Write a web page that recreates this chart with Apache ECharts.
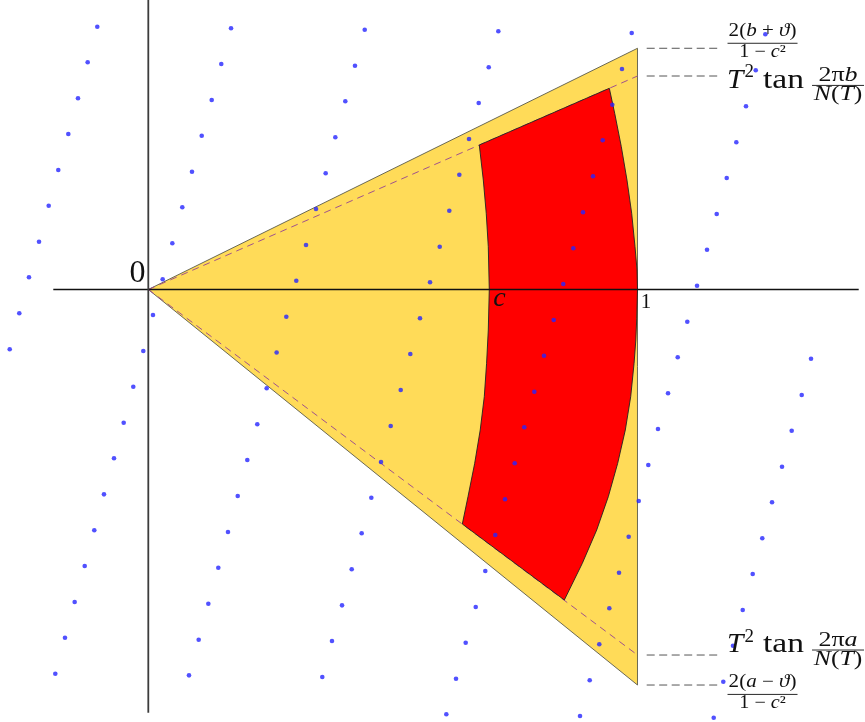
<!DOCTYPE html>
<html>
<head>
<meta charset="utf-8">
<style>
  html, body { margin: 0; padding: 0; background: #fff; }
  #chart { width: 865px; height: 722px; }
</style>
</head>
<body>
<div id="chart"></div>
<script src="https://cdn.jsdelivr.net/npm/echarts@6/dist/echarts.min.js"></script>
<script>
// plane coordinates, unit = distance from 0 to 1 on the real axis
const triangle = [[0, 0], [1, 0.4931], [1, -0.8085]]
const rayTop = [[0, 0], [1, 0.4364]]
const rayBottom = [[0, 0], [1, -0.7472]]

// red region: outer arc top -> bottom, inner arc bottom -> top
const outerArc = [
  [0.9424, 0.4113], [0.9534, 0.3602], [0.9669, 0.2919], [0.9785, 0.2238],
  [0.9881, 0.1558], [0.9949, 0.0875], [0.9990, 0.0400], [1.0, 0],
  [0.9984, -0.0600], [0.9966, -0.1032], [0.9930, -0.1509], [0.9861, -0.2191],
  [0.9751, -0.2872], [0.9595, -0.3553], [0.9403, -0.4236], [0.9166, -0.4916],
  [0.8872, -0.5597], [0.8504, -0.6347]
]
const innerArc = [
  [0.6419, -0.4794], [0.6535, -0.4236], [0.6672, -0.3553], [0.6785, -0.2872],
  [0.6868, -0.2191], [0.6915, -0.1509], [0.6950, -0.0828], [0.6970, 0],
  [0.6950, 0.0875], [0.6908, 0.1558], [0.6848, 0.2238], [0.6766, 0.2954]
]

const realAxis = [[-0.1942, 0], [1.4522, 0]]
const imagAxis = [[0, 0.5918], [0, -0.8651]]

const xTicks = [0, 0.697, 1]
const xTickLabels = ['0', 'c', '1']

const rightTicks = [0.4931, 0.4364, -0.7472, -0.8085]
const rightTickNum = ['2({i|b} + {i|ϑ})', '2π{i|b}', '2π{i|a}', '2({i|a} − {i|ϑ})']
const rightTickDen = ['1 − {i|c}²', '{i|N}({i|T})', '{i|N}({i|T})', '1 − {i|c}²']
const guideStart = 1.0188
const guideEnd = 1.1687

// lattice points, one slanted column each
const dotsA = [[-0.1043, 0.5372], [-0.1239, 0.4644], [-0.1437, 0.3909], [-0.1635, 0.3179], [-0.1840, 0.2443],
  [-0.2036, 0.1713], [-0.2234, 0.0977], [-0.2439, 0.0249], [-0.2637, -0.0487], [-0.2833, -0.1222]]
const dotsB = [[0.1691, 0.5340], [0.1492, 0.4610], [0.1296, 0.3874], [0.1092, 0.3144], [0.0893, 0.2408],
  [0.0695, 0.1680], [0.0491, 0.0944], [0.0294, 0.0209], [0.0096, -0.0521], [-0.0102, -0.1257],
  [-0.0307, -0.1987], [-0.0503, -0.2723], [-0.0701, -0.3451], [-0.0906, -0.4187], [-0.1104, -0.4922],
  [-0.1300, -0.5652], [-0.1505, -0.6388], [-0.1703, -0.7118], [-0.1901, -0.7854]]
const dotsC = [[0.4424, 0.5311], [0.4225, 0.4575], [0.4027, 0.3847], [0.3823, 0.3111], [0.3626, 0.2375],
  [0.3428, 0.1646], [0.3224, 0.0910], [0.3025, 0.0180], [0.2821, -0.0556], [0.2623, -0.1288],
  [0.2420, -0.2020], [0.2228, -0.2756], [0.2024, -0.3485], [0.1828, -0.4221], [0.1629, -0.4957],
  [0.1431, -0.5687], [0.1227, -0.6423], [0.1030, -0.7159], [0.0832, -0.7887]]
const dotsD = [[0.7155, 0.5278], [0.6959, 0.4542], [0.6754, 0.3812], [0.6556, 0.3077], [0.6358, 0.2347],
  [0.6153, 0.1611], [0.5957, 0.0875], [0.5759, 0.0147], [0.5554, -0.0589], [0.5356, -0.1319],
  [0.5160, -0.2054], [0.4955, -0.2790], [0.4757, -0.3526], [0.4559, -0.4256], [0.4362, -0.4984],
  [0.4158, -0.5720], [0.3960, -0.6456], [0.3755, -0.7185], [0.3557, -0.7921]]
const dotsE = [[0.9882, 0.5243], [0.9683, 0.4508], [0.9485, 0.3778], [0.9289, 0.3050], [0.9091, 0.2314],
  [0.8886, 0.1578], [0.8688, 0.0842], [0.8483, 0.0112], [0.8287, -0.0624], [0.8089, -0.1353],
  [0.7891, -0.2089], [0.7686, -0.2817], [0.7490, -0.3553], [0.7292, -0.4289], [0.7093, -0.5019],
  [0.6889, -0.5754], [0.6693, -0.6490], [0.6488, -0.7220], [0.6290, -0.7956], [0.6092, -0.8684]]
const dotsF = [[1.2613, 0.5217], [1.2417, 0.4481], [1.2218, 0.3745], [1.2020, 0.3009], [1.1824, 0.2279],
  [1.1619, 0.1543], [1.1421, 0.0814], [1.1217, 0.0078], [1.1018, -0.0658], [1.0822, -0.1386],
  [1.0624, -0.2122], [1.0419, -0.2852], [1.0221, -0.3588], [1.0025, -0.4324], [0.9820, -0.5053],
  [0.9622, -0.5789], [0.9424, -0.6517], [0.9219, -0.7253], [0.9023, -0.7989], [0.8825, -0.8719]]
const dotsG = [[1.3547, -0.1415], [1.3357, -0.2157], [1.3152, -0.2886], [1.2954, -0.3622], [1.2750, -0.4350],
  [1.2551, -0.5086], [1.2355, -0.5816], [1.2151, -0.6552], [1.1952, -0.7281], [1.1754, -0.8017],
  [1.1558, -0.8753]]

const FONT = "'Liberation Serif', 'DejaVu Serif', serif"
const INK = '#111'

const chart = echarts.init(document.getElementById('chart'))

function polygonSeries(points, fill, stroke, z) {
  return {
    type: 'custom',
    z: z,
    silent: true,
    data: [0],
    renderItem: (params, api) => ({
      type: 'polygon',
      shape: { points: points.map(p => api.coord(p)) },
      style: { fill: fill, stroke: stroke, lineWidth: 0.9 }
    })
  }
}

function segment(data, color, width, dash, z) {
  return {
    type: 'line',
    z: z,
    silent: true,
    symbol: 'none',
    data: data,
    lineStyle: { color: color, width: width, type: dash || 'solid' }
  }
}

function txt(x, y, text, size, opts) {
  opts = opts || {}
  return {
    type: 'text',
    x: x,
    y: y,
    scaleX: opts.stretch || 1,
    style: {
      text: text,
      fill: INK,
      fontFamily: FONT,
      fontSize: size,
      fontStyle: opts.italic ? 'italic' : 'normal',
      align: opts.align || 'center',
      verticalAlign: 'middle',
      rich: {
        i: { fontFamily: FONT, fontSize: size, fontStyle: 'italic', fill: INK }
      }
    }
  }
}

function bar(cx, y, halfW) {
  return {
    type: 'line',
    shape: { x1: cx - halfW, y1: y, x2: cx + halfW, y2: y },
    style: { stroke: INK, lineWidth: 0.9 }
  }
}

// where each right-hand label sits relative to its guide line
const placement = ['above', 'below', 'above', 'below']
const labelKind = ['frac', 'tan', 'tan', 'frac']

function renderRightLabel(params, api) {
  const i = params.dataIndex
  const p = api.coord([api.value(0), api.value(1)])
  const x0 = p[0]
  const barY = p[1] + (placement[i] === 'above' ? -5 : 9.4)
  let children
  if (labelKind[i] === 'frac') {
    const cx = x0 + 42.5
    children = [
      txt(cx, barY - 12, rightTickNum[i], 18, { stretch: 1.17 }),
      bar(cx, barY, 35),
      txt(cx, barY + 9.3, rightTickDen[i], 18, { stretch: 1.12 })
    ]
  } else {
    const mid = barY - 4.9
    const cx = x0 + 118
    children = [
      txt(x0 + 7, mid, 'T', 28, { italic: true, align: 'left', stretch: 1.05 }),
      txt(x0 + 24.5, barY - 13, '2', 18, { align: 'left', stretch: 1.05 }),
      txt(x0 + 43, mid, 'tan', 28, { align: 'left', stretch: 1.2 }),
      txt(cx, barY - 9.5, rightTickNum[i], 20, { stretch: 1.3 }),
      bar(cx, barY, 26),
      txt(cx, barY + 9.8, rightTickDen[i], 20, { stretch: 1.28 })
    ]
  }
  return { type: 'group', children: children }
}

const tickStyle = [
  { dx: -10.8, dy: -15.5, size: 32, italic: false, align: 'center' },
  { dx: 4, dy: 9.3, size: 28, italic: true, align: 'left' },
  { dx: 8.5, dy: 13.4, size: 21, italic: false, align: 'center' }
]

function renderTick(params, api) {
  const i = params.dataIndex
  const p = api.coord([api.value(0), 0])
  const s = tickStyle[i]
  return txt(p[0] + s.dx, p[1] + s.dy, xTickLabels[i], s.size, { italic: s.italic, align: s.align })
}

const guideSeries = rightTicks.map(v =>
  segment([[guideStart, v], [guideEnd, v]], '#555', 1, [8, 4.5], 4))

const option = {
  animation: false,
  backgroundColor: '#fff',
  grid: { left: 0, right: 0, top: 0, bottom: 0 },
  xAxis: {
    type: 'value',
    min: -0.30315,
    max: 1.46505,
    show: false
  },
  yAxis: {
    type: 'value',
    min: -0.88410,
    max: 0.59178,
    show: false
  },
  series: [
    polygonSeries(triangle, '#ffdb58', '#5a5a4a', 1),
    segment(rayTop, '#a0528c', 1, [7, 5], 2),
    segment(rayBottom, '#a0528c', 1, [7, 5], 2),
    polygonSeries(outerArc.concat(innerArc), '#ff0000', '#222', 3),
    segment(realAxis, '#111', 1.4, null, 4),
    segment(imagAxis, '#3c3c3c', 1.8, null, 4),
    ...guideSeries,
    {
      type: 'scatter',
      z: 5,
      silent: true,
      symbolSize: 4.6,
      itemStyle: { color: '#2626ff' },
      data: [...dotsA, ...dotsB, ...dotsC, ...dotsD, ...dotsE, ...dotsF, ...dotsG]
    },
    {
      type: 'custom',
      z: 6,
      silent: true,
      data: xTicks.map(v => [v, 0]),
      renderItem: renderTick
    },
    {
      type: 'custom',
      z: 6,
      silent: true,
      data: rightTicks.map(v => [guideEnd, v]),
      renderItem: renderRightLabel
    }
  ]
}

chart.setOption(option)
window.addEventListener('resize', () => chart.resize())
</script>
</body>
</html>
